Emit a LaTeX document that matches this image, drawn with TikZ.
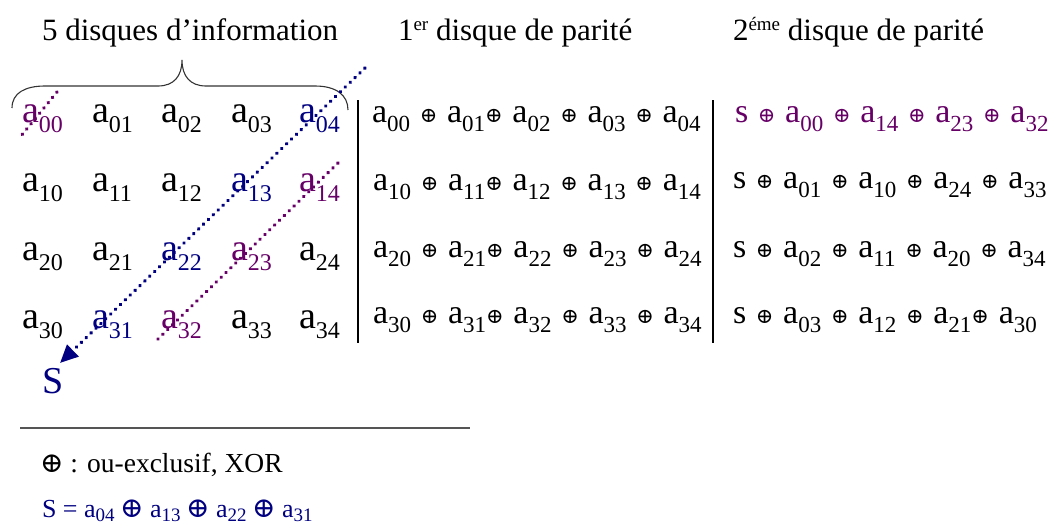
\documentclass[tikz,border=0pt]{standalone}
\usepackage{fontspec}
\setmainfont{Liberation Serif}
\newfontfamily\symf{DejaVu Serif}
\usetikzlibrary{arrows.meta}
\definecolor{navy}{HTML}{000080}
\definecolor{plum}{HTML}{660066}
\definecolor{rulegray}{HTML}{555555}
\newcommand\gsub[1]{\raisebox{-10pt}{\fontsize{24}{24}\selectfont #1}}
\newcommand\ga[1]{a\gsub{#1}}
\newcommand\psub[1]{\raisebox{-9pt}{\fontsize{23}{23}\selectfont #1}}
\newcommand\pa[1]{a\psub{#1}}
\newcommand\ox{{\symf\fontsize{21}{21}\selectfont ⊕}}
\newcommand\gap{\hspace{9.7pt}}
\newcommand\fsub[1]{\raisebox{-4pt}{\fontsize{19}{19}\selectfont #1}}
\newcommand\fox{{\symf\fontsize{28}{28}\selectfont ⊕}}
\tikzset{
  lbl/.style={anchor=base west, inner sep=0pt, outer sep=0pt},
  grid/.style={lbl, font=\fontsize{38}{38}\selectfont},
  par/.style={lbl, font=\fontsize{34}{34}\selectfont},
  head/.style={lbl, font=\fontsize{31}{31}\selectfont},
  foot/.style={lbl, font=\fontsize{26}{26}\selectfont},
  dots/.style={line width=3.6pt, line cap=round, dash pattern=on 0.4pt off 6.4pt},
}
\begin{document}
\begin{tikzpicture}[x=1pt,y=-1pt]
\useasboundingbox (0,0) rectangle (1050,528);
% headers
\node[head] (h1) at (42,40) {5 disques d’information};
\node[head] (h2) at (398,40) {1\raisebox{10pt}{\fontsize{19}{19}\selectfont er} disque de parité};
\node[head] (h3) at (733,40) {2\raisebox{10pt}{\fontsize{19}{19}\selectfont éme} disque de parité};
% brace
\draw[line width=1.1pt, black!80] (12,108) .. controls (12,93) and (25,86) .. (45,86) -- (158,86)
  .. controls (174,86) and (182,76) .. (182,60) .. controls (182,76) and (190,86) .. (206,86)
  -- (315,86) .. controls (336,86) and (348,95) .. (348,110);
% grid
\node[grid, text=plum] (g00) at (22,122) {\ga{00}};
\node[grid] (g01) at (92,122) {\ga{01}};
\node[grid] (g02) at (161,122) {\ga{02}};
\node[grid] (g03) at (231,122) {\ga{03}};
\node[grid, text=navy] (g04) at (299,122) {\ga{04}};
\node[grid] (g10) at (22,191) {\ga{10}};
\node[grid] (g11) at (92,191) {\ga{11}};
\node[grid] (g12) at (161,191) {\ga{12}};
\node[grid, text=navy] (g13) at (231,191) {\ga{13}};
\node[grid, text=plum] (g14) at (299,191) {\ga{14}};
\node[grid] (g20) at (22,260) {\ga{20}};
\node[grid] (g21) at (92,260) {\ga{21}};
\node[grid, text=navy] (g22) at (161,260) {\ga{22}};
\node[grid, text=plum] (g23) at (231,260) {\ga{23}};
\node[grid] (g24) at (299,260) {\ga{24}};
\node[grid] (g30) at (22,328) {\ga{30}};
\node[grid, text=navy] (g31) at (92,328) {\ga{31}};
\node[grid, text=plum] (g32) at (161,328) {\ga{32}};
\node[grid] (g33) at (231,328) {\ga{33}};
\node[grid] (g34) at (299,328) {\ga{34}};
% separators
\coordinate (v1t) at (358,100); \coordinate (v1b) at (358,343);
\coordinate (v2t) at (713,100); \coordinate (v2b) at (713,343);
\draw[line width=1.1pt] (v1t) -- (v1b);
\draw[line width=1.1pt] (v2t) -- (v2b);
% first parity
\node[par] (p0) at (372,122) {\pa{00}\gap\ox\gap\pa{01}\ox\gap\pa{02}\gap\ox\gap\pa{03}\gap\ox\gap\pa{04}};
\node[par] (p1) at (373,190) {\pa{10}\gap\ox\gap\pa{11}\ox\gap\pa{12}\gap\ox\gap\pa{13}\gap\ox\gap\pa{14}};
\node[par] (p2) at (373,257) {\pa{20}\gap\ox\gap\pa{21}\ox\gap\pa{22}\gap\ox\gap\pa{23}\gap\ox\gap\pa{24}};
\node[par] (p3) at (373,323) {\pa{30}\gap\ox\gap\pa{31}\ox\gap\pa{32}\gap\ox\gap\pa{33}\gap\ox\gap\pa{34}};
% second parity
\node[par, text=plum] (q0) at (735,122) {s\gap\ox\gap\pa{00}\gap\ox\gap\pa{14}\gap\ox\gap\pa{23}\gap\ox\gap\pa{32}};
\node[par] (q1) at (733,188) {s\gap\ox\gap\pa{01}\gap\ox\gap\pa{10}\gap\ox\gap\pa{24}\gap\ox\gap\pa{33}};
\node[par] (q2) at (733,257) {s\gap\ox\gap\pa{02}\gap\ox\gap\pa{11}\gap\ox\gap\pa{20}\gap\ox\gap\pa{34}};
\node[par] (q3) at (733,323) {s\gap\ox\gap\pa{03}\gap\ox\gap\pa{12}\gap\ox\gap\pa{21}\ox\gap\pa{30}};
% S
\node[lbl, font=\fontsize{38}{38}\selectfont, text=navy] (S) at (42,393) {S};
% dotted lines
\coordinate (bt) at (365,68); \coordinate (bb) at (60,363);
\coordinate (pat) at (57,92); \coordinate (pab) at (21,136);
\coordinate (pbt) at (338,163); \coordinate (pbb) at (156,341);
\draw[dots, navy, -{Triangle[length=18pt,width=16pt]}] (bt) -- (bb);
\draw[dots, plum] (pat) -- (pab);
\draw[dots, plum] (pbt) -- (pbb);
% footer
\coordinate (rl) at (20,428); \coordinate (rr) at (470,428);
\draw[line width=1.1pt, rulegray] (rl) -- (rr);
\node[foot, font=\fontsize{27.5}{27.5}\selectfont] (xor) at (40,472) {\fox\ : ou-exclusif, XOR};
\node[foot, text=navy] (sdef) at (42,517) {S = a\fsub{04}\hspace{5.5pt}\fox\hspace{6.5pt}a\fsub{13}\hspace{5.5pt}\fox\hspace{6.5pt}a\fsub{22}\hspace{5.5pt}\fox\hspace{6.5pt}a\fsub{31}};
\end{tikzpicture}
\end{document}
